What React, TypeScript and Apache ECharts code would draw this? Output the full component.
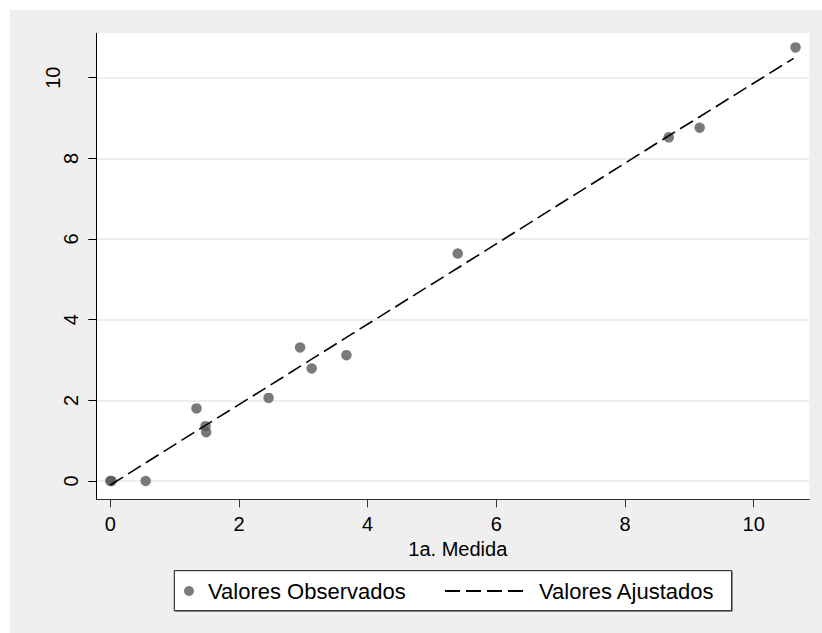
import React, { useEffect, useRef } from "react";
import * as echarts from "echarts";

// Observed points (1a. Medida vs 2a. medida)
const obsX = [0, 0.02, 0.55, 1.34, 1.48, 1.49, 2.46, 2.95, 3.13, 3.67, 5.4, 8.68, 9.16, 10.65];
const obsY = [0, 0, 0, 1.8, 1.36, 1.21, 2.06, 3.31, 2.79, 3.12, 5.64, 8.52, 8.76, 10.75];
// Fitted values at the observed x's
const fitX = [0, 0.55, 1.34, 1.48, 2.46, 2.95, 3.13, 3.67, 5.4, 8.68, 9.16, 10.62];
const fitY = [-0.1, 0.45, 1.24, 1.38, 2.35, 2.84, 3.02, 3.56, 5.28, 8.56, 9.03, 10.48];

const xTicks = [0, 2, 4, 6, 8, 10];
const yTicks = [0, 2, 4, 6, 8, 10];

const seriesNames = ["Valores Observados", "Valores Ajustados"];
const xTitle = "1a. Medida";

const FONT = "'Liberation Sans', Arial, Helvetica, sans-serif";

export default function App() {
  const ref = useRef<HTMLDivElement>(null);
  useEffect(() => {
    if (!ref.current) return;
    const chart = echarts.init(ref.current, undefined, { renderer: "svg" });
    const obsData = obsX.map((x, i) => [x, obsY[i]]);
    const fitData = fitX.map((x, i) => [x, fitY[i]]);
    chart.setOption({
      animation: false,
      backgroundColor: "#efefef",
      textStyle: { fontFamily: FONT },
      grid: {
        left: 86.3,
        top: 23.3,
        width: 713,
        height: 466,
        show: true,
        backgroundColor: "#ffffff",
        borderWidth: 0,
      },
      xAxis: {
        type: "value",
        min: -0.2176,
        max: 10.864,
        name: xTitle,
        nameLocation: "middle",
        nameGap: 35,
        nameTextStyle: { fontSize: 20, color: "#000", fontFamily: FONT, padding: [0, 0, 0, 10] },
        axisLine: { show: true, onZero: false, lineStyle: { color: "#333", width: 1 } },
        axisTick: { show: true, inside: false, length: 8, customValues: xTicks, lineStyle: { color: "#333" } },
        axisLabel: { customValues: xTicks, fontSize: 20, color: "#000", margin: 15, fontFamily: FONT },
        splitLine: { show: false },
      },
      yAxis: {
        type: "value",
        min: -0.454,
        max: 11.1,
        axisLine: { show: true, onZero: false, lineStyle: { color: "#000", width: 1 } },
        axisTick: { show: true, inside: false, length: 8, customValues: yTicks, lineStyle: { color: "#000" } },
        axisLabel: {
          customValues: yTicks,
          rotate: 90,
          fontSize: 20,
          color: "#000",
          margin: 15,
          fontFamily: FONT,
          formatter: (v: number) => (v >= 10 ? "{w|" + v + "}" : "{n|" + v + "}"),
          rich: {
            w: { fontSize: 20, fontFamily: FONT, color: "#000", padding: [0, 0, 18, 0] },
            n: { fontSize: 20, fontFamily: FONT, color: "#000" },
          },
        },
        splitLine: { show: true, lineStyle: { color: "#e8e8e8", width: 1.5 } },
      },
      graphic: [
        {
          type: "rect",
          z: 1,
          shape: { x: 165.3, y: 561.7, width: 557.4, height: 40 },
          style: { fill: "#888", stroke: "none" },
        },
        {
          type: "rect",
          z: 2,
          shape: { x: 164.3, y: 560.7, width: 557.4, height: 40 },
          style: { fill: "#ffffff", stroke: "#111", lineWidth: 1 },
        },
      ],
      legend: [
        {
          data: [{ name: seriesNames[0], icon: "circle" }],
          left: 174,
          top: 568,
          padding: 0,
          itemWidth: 28,
          itemHeight: 10,
          textStyle: { fontSize: 22, color: "#000", fontFamily: FONT, lineHeight: 26 },
          z: 5,
        },
        {
          data: [{ name: seriesNames[1] }],
          left: 434,
          top: 568,
          padding: 0,
          itemWidth: 84,
          itemHeight: 14,
          itemStyle: { opacity: 0 },
          textStyle: { fontSize: 22, color: "#000", fontFamily: FONT, lineHeight: 26, padding: [0, 0, 0, 5] },
          z: 5,
        },
      ],
      series: [
        {
          name: seriesNames[0],
          type: "scatter",
          data: obsData,
          symbol: "circle",
          symbolSize: 10.5,
          itemStyle: { color: "#595959" },
          z: 3,
        },
        {
          name: seriesNames[1],
          type: "line",
          data: fitData,
          symbol: "none",
          itemStyle: { color: "#000" },
          lineStyle: { color: "#000", width: 1.6, type: [15, 6] },
          z: 4,
        },
      ],
    });
    return () => chart.dispose();
  }, []);
  return (
    <div
      ref={ref}
      style={{ position: "absolute", left: 10, top: 10, width: 812, height: 623 }}
    />
  );
}
